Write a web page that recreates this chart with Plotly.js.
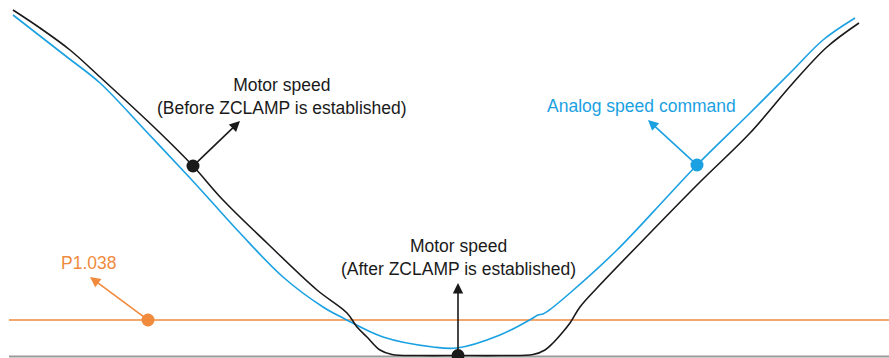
<!DOCTYPE html>
<html>
<head>
<meta charset="utf-8">
<script src="https://cdn.plot.ly/plotly-3.0.1.min.js"></script>
<style>html,body{margin:0;padding:0;background:#fff;}#chart{width:889px;height:358px;}</style>
</head>
<body>
<div id="chart"></div>
<script>
// Motor speed (before ZCLAMP) – time / speed samples
const motorTime = [13, 40, 70, 100, 157, 193, 223, 267, 317, 347, 357, 367, 380, 392, 420, 460, 500, 533, 545, 553, 562, 570, 580, 597, 650, 700, 750, 793, 827, 859];
const motorSpeed = [347, 329, 307, 280, 227, 191, 157, 114, 67, 44, 30, 20, 7, 2.5, 1.5, 1.5, 1.5, 2.5, 7, 14, 24, 34, 50, 69, 124, 175, 224, 274, 310, 334];

// Analog speed command
const cmdTime = [13, 67, 100, 143, 190, 210, 240, 283, 323, 343, 383, 433, 457, 500, 533, 538, 543, 548, 570, 617, 667, 697, 750, 793, 823, 855];
const cmdSpeed = [342, 300, 274, 229, 179, 157, 124, 80, 50, 39, 20, 10, 9, 22, 39, 42, 43, 46, 64, 107, 160, 192, 244, 287, 317, 339];

// P1.038 level (zero-speed clamp threshold) and zero line
const clampLevel = 37;
const timeSpan = [9, 889];
const zeroLevel = 0.5;

// Marker points
const beforePt = {t: 193, v: 191};
const cmdPt = {t: 697, v: 192};
const clampPt = {t: 148, v: clampLevel};
const afterPt = {t: 458, v: 1.5};

const labels = {
  before: 'Motor speed<br>(Before ZCLAMP is established)',
  after: 'Motor speed<br>(After ZCLAMP is established)',
  cmd: 'Analog speed command',
  clamp: 'P1.038'
};

const BLACK = '#1a1a1a', BLUE = '#1ba1e2', ORANGE = '#f08a3c', GRAY = '#9a9a9a';
const FONT = 'Liberation Sans, Arial, sans-serif';

const traces = [
  {x: timeSpan, y: [zeroLevel, zeroLevel], mode: 'lines', line: {color: GRAY, width: 2}},
  {x: timeSpan, y: [clampLevel, clampLevel], mode: 'lines', line: {color: ORANGE, width: 1.6}},
  {x: cmdTime, y: cmdSpeed, mode: 'lines', line: {color: BLUE, width: 1.6, shape: 'spline', smoothing: 1}},
  {x: motorTime, y: motorSpeed, mode: 'lines', line: {color: BLACK, width: 1.6, shape: 'spline', smoothing: 1}},
  {x: [beforePt.t, afterPt.t], y: [beforePt.v, afterPt.v], mode: 'markers', marker: {color: BLACK, size: 13}},
  {x: [cmdPt.t], y: [cmdPt.v], mode: 'markers', marker: {color: BLUE, size: 13}},
  {x: [clampPt.t], y: [clampPt.v], mode: 'markers', marker: {color: ORANGE, size: 13}}
];

function arrow(fromPt, toT, toV, color) {
  return {x: toT, y: toV, ax: fromPt.t, ay: fromPt.v, xref: 'x', yref: 'y', axref: 'x', ayref: 'y',
    text: '', showarrow: true, arrowhead: 2, arrowsize: 1.3, arrowwidth: 1.6, arrowcolor: color, standoff: 0};
}
function label(txt, t, v, color) {
  return {x: t, y: v, xref: 'x', yref: 'y', text: txt, showarrow: false, xanchor: 'center', yanchor: 'middle',
    font: {family: FONT, size: 17.5, color: color}};
}

const layout = {
  width: 889, height: 358,
  margin: {l: 0, r: 0, t: 0, b: 0},
  paper_bgcolor: '#fff', plot_bgcolor: '#fff',
  showlegend: false,
  xaxis: {range: [0, 889], visible: false, fixedrange: true},
  yaxis: {range: [-1, 357], visible: false, fixedrange: true},
  annotations: [
    arrow(beforePt, 240, 236, BLACK),
    arrow(cmdPt, 648, 237, BLUE),
    arrow(clampPt, 90, 80, ORANGE),
    arrow(afterPt, 458, 74, BLACK),
    label(labels.before, 282, 261, BLACK),
    label(labels.after, 458, 100, BLACK),
    label(labels.cmd, 641, 251, BLUE),
    label(labels.clamp, 88, 94, ORANGE)
  ]
};

Plotly.newPlot('chart', traces, layout, {displayModeBar: false, staticPlot: true});
</script>
</body>
</html>
